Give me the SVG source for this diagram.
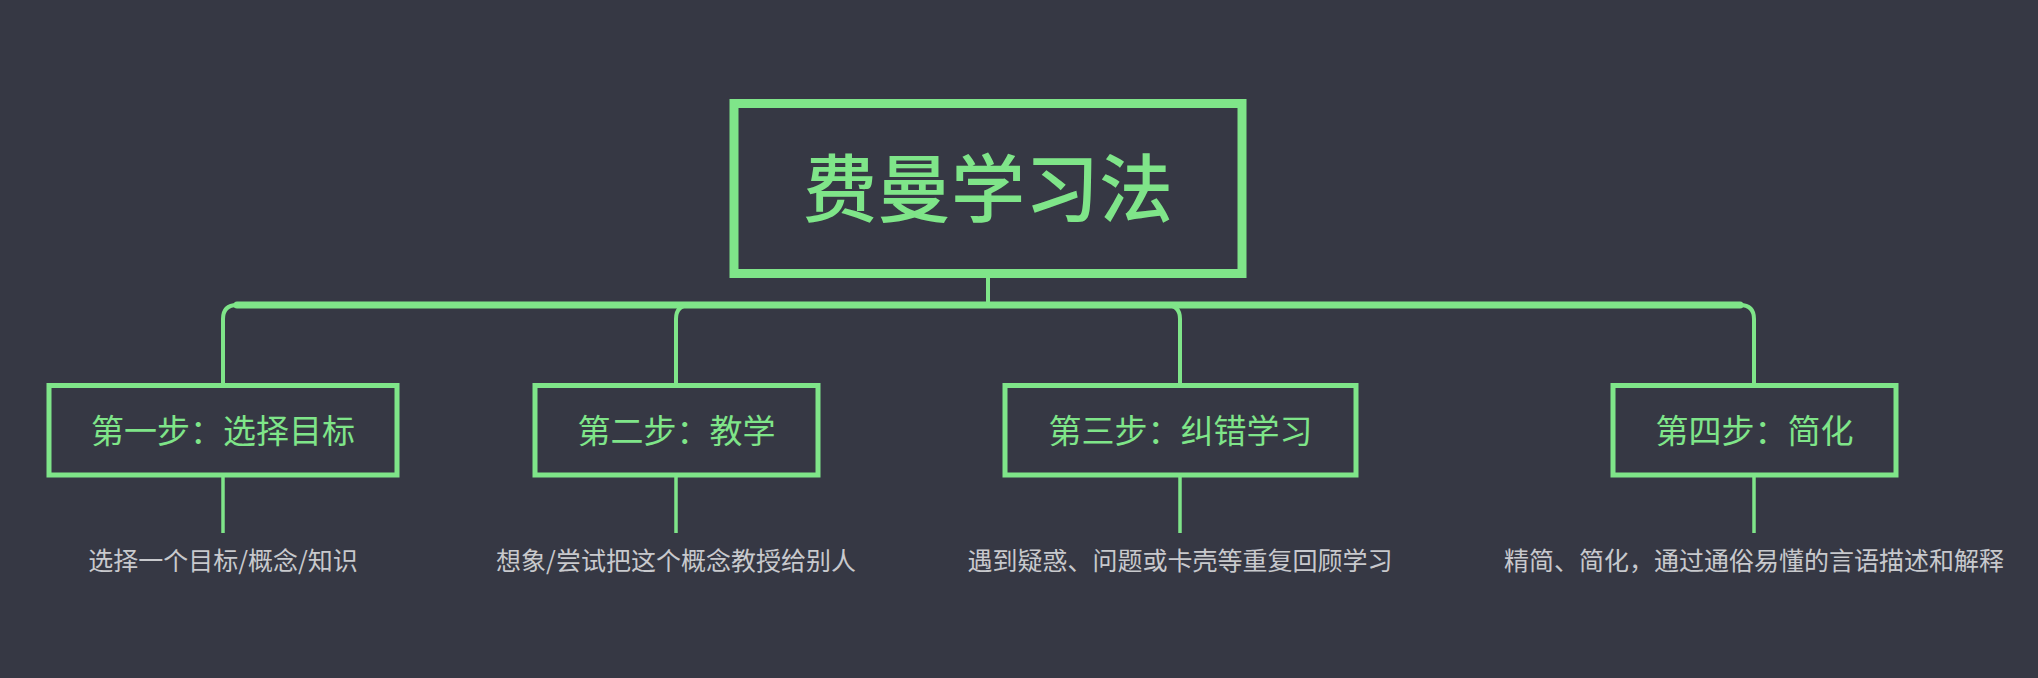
<svg xmlns="http://www.w3.org/2000/svg" width="2038" height="678" viewBox="0 0 2038 678">
<style>
.bg{fill:#363844}
.root{fill:none;stroke:#7fe589;stroke-width:9}
.step{fill:none;stroke:#7fe589;stroke-width:5}
.bus{fill:none;stroke:#7fe589;stroke-width:7;stroke-linecap:round}
.br{fill:none;stroke:#7fe589;stroke-width:4}
.drop{fill:none;stroke:#7fe589;stroke-width:3.5}
.t-root{font-family:"Noto Sans CJK SC","Noto Sans",sans-serif;font-size:74px;fill:#7fe589;text-anchor:middle;font-weight:500}
.t-step{font-family:"Noto Sans CJK SC","Noto Sans",sans-serif;font-size:33px;fill:#7fe589;text-anchor:middle}
.t-desc{font-family:"Noto Sans CJK SC","Noto Sans",sans-serif;font-size:25px;fill:#c8c9cd;text-anchor:middle}
</style>
<rect class="bg" x="0" y="0" width="2038" height="678"/>
<g id="connectors">
<path class="br" d="M988 273 V305"/>
<path class="bus" d="M237 305 H1740"/>
<path class="br" d="M237 305 Q223 305 223 319 V385"/>
<path class="br" d="M690 305 Q676 305 676 319 V385"/>
<path class="br" d="M1166 305 Q1180 305 1180 319 V385"/>
<path class="br" d="M1740 305 Q1754 305 1754 319 V385"/>
<path class="drop" d="M223 475 V533"/>
<path class="drop" d="M676 475 V533"/>
<path class="drop" d="M1180 475 V533"/>
<path class="drop" d="M1754 475 V533"/>
</g>
<g id="root">
<rect class="root" x="734" y="103.5" width="508" height="170"/>
<text class="t-root" x="988" y="216">费曼学习法</text>
</g>
<g id="step1">
<rect class="step" x="49" y="385.5" width="348" height="89.5"/>
<text class="t-step" x="223" y="442.5">第一步：选择目标</text>
</g>
<g id="step2">
<rect class="step" x="535" y="385.5" width="283" height="89.5"/>
<text class="t-step" x="676.5" y="442.5">第二步：教学</text>
</g>
<g id="step3">
<rect class="step" x="1005" y="385.5" width="351" height="89.5"/>
<text class="t-step" x="1180.5" y="442.5">第三步：纠错学习</text>
</g>
<g id="step4">
<rect class="step" x="1613" y="385.5" width="283" height="89.5"/>
<text class="t-step" x="1754.5" y="442.5">第四步：简化</text>
</g>
<g id="desc1"><text class="t-desc" x="223" y="570">选择一个目标/概念/知识</text></g>
<g id="desc2"><text class="t-desc" x="676" y="570">想象/尝试把这个概念教授给别人</text></g>
<g id="desc3"><text class="t-desc" x="1180" y="570">遇到疑惑、问题或卡壳等重复回顾学习</text></g>
<g id="desc4"><text class="t-desc" x="1754" y="570">精简、简化，通过通俗易懂的言语描述和解释</text></g>
</svg>
